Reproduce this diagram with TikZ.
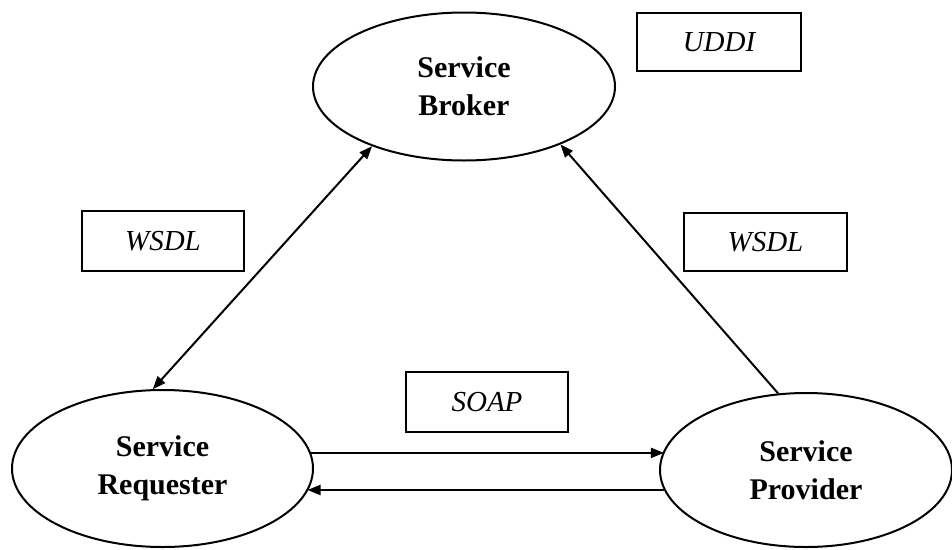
\documentclass[tikz,border=0pt]{standalone}
\usepackage{fontspec}
\setmainfont{Liberation Serif}
\usetikzlibrary{shapes.geometric,arrows.meta}
\begin{document}
\begin{tikzpicture}[x=1pt,y=-1pt,
  role/.style={ellipse,draw,line width=2pt,inner sep=0pt,align=center,
    font=\fontsize{30}{38}\selectfont\bfseries},
  tag/.style={rectangle,draw,line width=2pt,inner sep=0pt,
    font=\fontsize{29}{34}\selectfont\itshape},
  link/.style={line width=2pt,-{Triangle[length=13pt,width=10pt]}},
  both/.style={line width=2pt,{Triangle[length=13pt,width=10pt]}-{Triangle[length=13pt,width=10pt]}}]
\useasboundingbox (0,0) rectangle (952,549);
\fill[white] (0,0) rectangle (952,549);
\node[role,minimum width=302pt,minimum height=148pt] (brk) at (464,86.5) {Service\\Broker};
\node[role,minimum width=301pt,minimum height=157pt] (req) at (162.5,468.5) {Service\\Requester};
\node[role,minimum width=292pt,minimum height=154pt] (prov) at (806,470) {Service\\Provider};
\node[tag,minimum width=164pt,minimum height=58pt] (uddi) at (719,42) {UDDI};
\node[tag,minimum width=162pt,minimum height=60pt] (wl) at (163,241) {WSDL};
\node[tag,minimum width=163pt,minimum height=58pt] (wr) at (765.5,242) {WSDL};
\node[tag,minimum width=162pt,minimum height=60pt] (soap) at (487,402) {SOAP};
\draw[both] (req.97) -- (brk.213);
\draw[link] (prov.110.6) -- (brk.329.5);
\draw[link] (req.6.8) -- (req.6.8 -| prov.172.3);
\draw[link] (prov.188.95) -- (prov.188.95 -| req.-9.3);
\end{tikzpicture}
\end{document}
